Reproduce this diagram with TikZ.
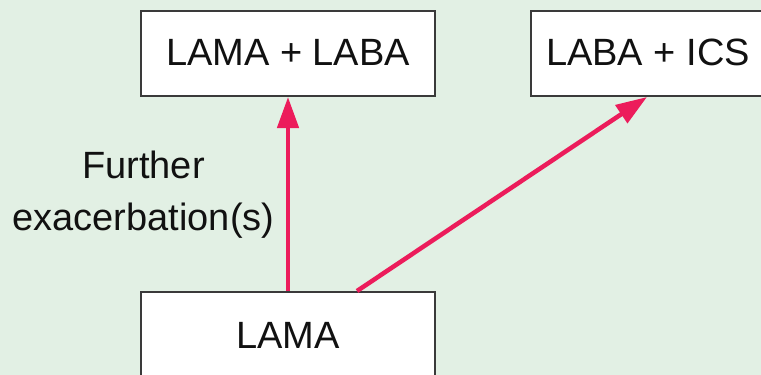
\documentclass[tikz,border=0pt]{standalone}
\usepackage{fontspec}
\setmainfont{Liberation Sans}
\usetikzlibrary{arrows.meta}
\definecolor{bggreen}{HTML}{E2F0E4}
\definecolor{arrred}{HTML}{EC1C5B}
\definecolor{boxline}{HTML}{3A3A3A}
\definecolor{txt}{HTML}{111111}
\tikzset{
  drug/.style={draw=boxline, line width=2pt, fill=white, inner sep=0pt,
    text=txt, font=\fontsize{38}{52}\selectfont, text height=27pt, text depth=4pt},
  arr/.style={draw=arrred, line width=4.5pt, -{Triangle[length=31pt,width=21pt]}},
  lbl/.style={text=txt, font=\fontsize{38}{52}\selectfont, align=center, inner sep=0pt}
}
\begin{document}
\begin{tikzpicture}[x=1pt,y=-1pt]
\clip (0,0) rectangle (761,375);
\fill[bggreen] (0,0) rectangle (761,375);
\node[drug, minimum width=294pt, minimum height=85pt] (lamalaba) at (288,53.5) {LAMA + LABA};
\node[drug, minimum width=234pt, minimum height=85pt] (labaics) at (648,53.5) {LABA + ICS};
\node[drug, minimum width=294pt, minimum height=89pt] (lama) at (288,336.5) {LAMA};
\draw[arr] (lama.north) -- (lamalaba.south);
\draw[arr] ([xshift=69pt]lama.north) -- ([xshift=-1pt]labaics.south);
\node[lbl, anchor=base] (further) at (143.5,230) {Further\\exacerbation(s)};
\end{tikzpicture}
\end{document}
